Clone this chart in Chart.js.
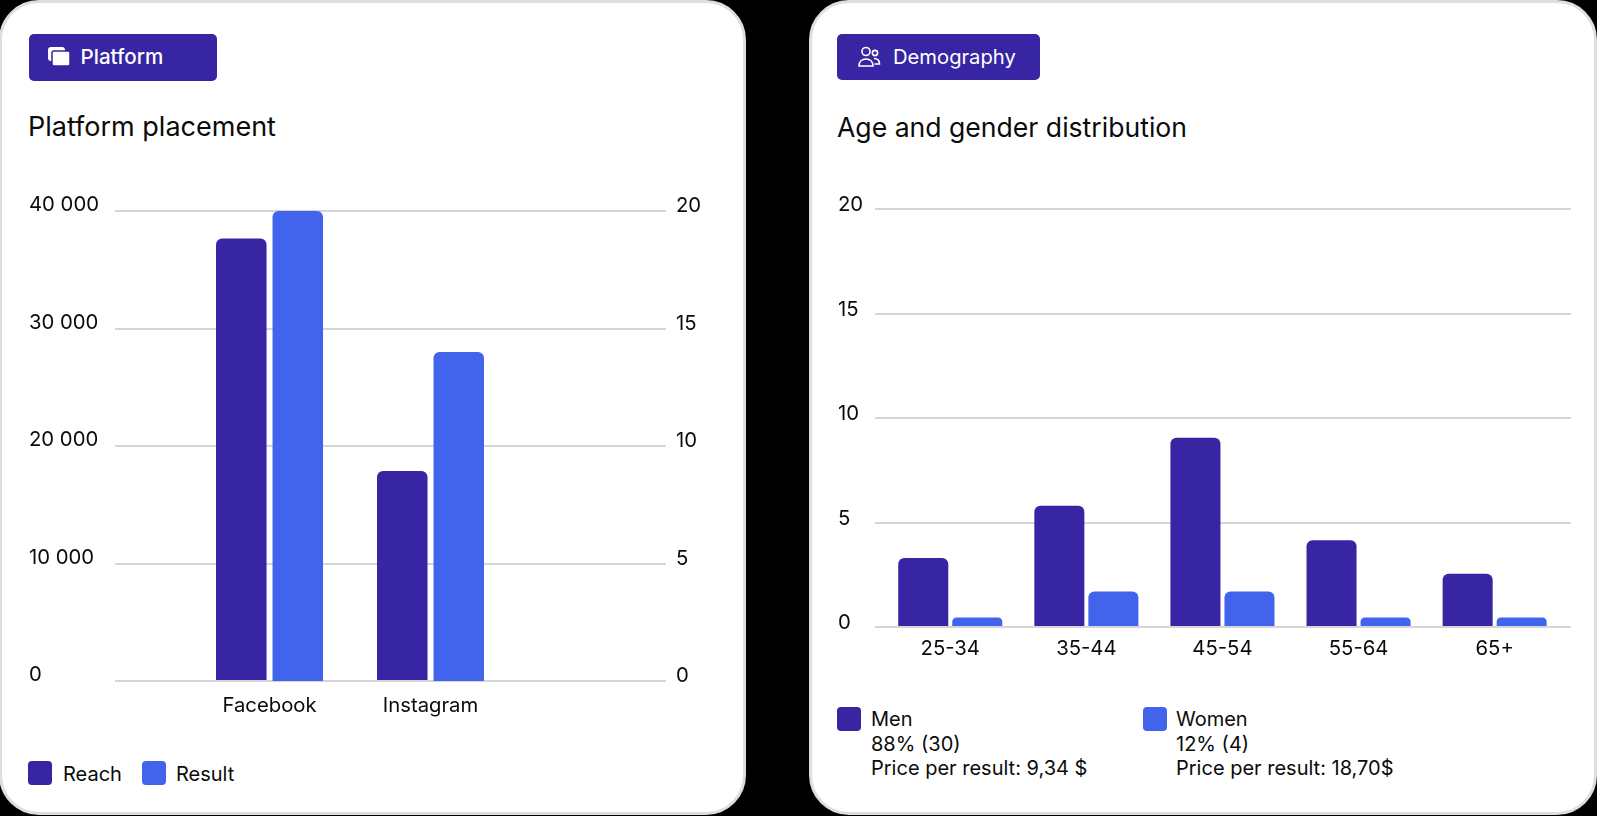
<!DOCTYPE html>
<html>
<head>
<meta charset="utf-8">
<title>Platform and demography</title>
<script src="https://cdn.jsdelivr.net/npm/chart.js@4/dist/chart.umd.min.js"></script>
<style>
    html, body { margin: 0; padding: 0; width: 1597px; height: 816px; background: #000; overflow: hidden; font-family: Inter, sans-serif; color: #0b0b0b; }
    .card { position: absolute; top: 0; height: 815px; box-sizing: border-box; background: #fff; border: 3px solid #dedede; border-radius: 40px; }
    #cardLeft { left: -1px; width: 747px; }
    #cardRight { left: 809px; width: 788px; }
    .badge { position: absolute; top: 34px; height: 47px; background: #3725a3; border-radius: 5px; color: #fff; line-height: 45px; box-sizing: border-box; }
    .badge svg { position: absolute; top: 11px; }
    .badge span { position: absolute; top: 0; white-space: nowrap; }
    .title { position: absolute; top: 109px; line-height: 36px; white-space: nowrap; }
    canvas { position: absolute; }
    .swatch { position: absolute; width: 24px; height: 24px; border-radius: 4px; }
    .legendText { position: absolute; font-size: 20px; line-height: 24.5px; white-space: nowrap; }
</style>
</head>
<body>
<div class="card" id="cardLeft"></div>
<div class="card" id="cardRight"></div>

<div class="badge" style="left:28.500px;width:188.500px">
    <svg style="left:18px" width="24" height="24" viewBox="0 0 24 24" fill="#fff"><rect x="1" y="2" width="17" height="14" rx="3"/><rect x="5" y="6" width="18" height="15" rx="2" stroke="#3725a3" stroke-width="1.5"/></svg>
    <span style="left:52px;font-size:20.600px;font-weight:500">Platform</span>
</div>
<div class="title" style="left:28px;font-size:27px">Platform placement</div>

<div class="badge" style="left:837px;width:203px;height:46px">
    <svg style="left:20px" width="24" height="24" viewBox="0 0 24 24" fill="none" stroke="#fff" stroke-width="1.6"><circle cx="9" cy="6.500" r="4"/><circle cx="18" cy="8" r="2.600"/><path d="M2 21c0-4.500 3-7 7-7s7 2.500 7 7z"/><path d="M17 13.500c3.500 0 5.500 2 5.500 5.500h-5"/></svg>
    <span style="left:56px;font-size:20.200px">Demography</span>
</div>
<div class="title" style="left:837px;font-size:26.600px">Age and gender distribution</div>

<canvas id="platformChart" style="left:29px;top:180px" width="700" height="550"></canvas>
<canvas id="demographyChart" style="left:838px;top:180px" width="733" height="490"></canvas>

<div class="swatch" style="left:28px;top:761px;background:#3725a3"></div>
<div class="legendText" style="left:63px;top:762px">Reach</div>
<div class="swatch" style="left:142px;top:761px;background:#4263eb"></div>
<div class="legendText" style="left:176px;top:762px">Result</div>

<div class="swatch" style="left:837px;top:707px;background:#3725a3"></div>
<div class="legendText" style="left:871px;top:707px">Men<br>88% (30)<br>Price per result: 9,34 $</div>
<div class="swatch" style="left:1143px;top:707px;background:#4263eb"></div>
<div class="legendText" style="left:1176px;top:707px">Women<br>12% (4)<br>Price per result: 18,70$</div>

<script>
const DARK = '#3725a3';
const BLUE = '#4263eb';
const GRID = '#d6d6da';
const TEXT = '#0b0b0b';

const platformLabels = ['Facebook', 'Instagram'];
const reachValues = [37650, 17870];
const resultValues = [20, 14];
const reachTicks = [0, 10000, 20000, 30000, 40000];
const resultTicks = [0, 5, 10, 15, 20];

const ageLabels = ['25-34', '35-44', '45-54', '55-64', '65+'];
const menValues = [3.3, 5.8, 9.05, 4.15, 2.55];
const womenValues = [0.45, 1.7, 1.7, 0.45, 0.45];
const ageTicks = [0, 5, 10, 15, 20];

Chart.defaults.animation = false;
Chart.defaults.font.family = 'Inter, sans-serif';
Chart.defaults.font.size = 20.3;
Chart.defaults.color = TEXT;
Chart.defaults.responsive = false;

function toPoints(values) {
    return values.map((y, i) => ({ x: i, y }));
}

function setTicks(list) {
    return scale => { scale.ticks = list.map(value => ({ value })); };
}

function barSet(label, values, color, axis) {
    return {
        label,
        data: toPoints(values),
        backgroundColor: color,
        borderRadius: { topLeft: 6, topRight: 6 },
        borderSkipped: 'bottom',
        yAxisID: axis
    };
}

// x is a linear scale so the groups can sit off-centre like the original
function categoryAxis(labels, min, max, height, padding) {
    return {
        type: 'linear',
        offset: false,
        min,
        max,
        afterBuildTicks: setTicks(labels.map((_, i) => i)),
        afterFit: scale => { scale.height = height; },
        grid: { display: false },
        border: { display: false },
        ticks: { padding, autoSkip: false, maxRotation: 0, callback: v => labels[v] }
    };
}

new Chart(document.getElementById('platformChart'), {
    type: 'bar',
    data: {
        datasets: [
            barSet('Reach', reachValues, DARK, 'y'),
            barSet('Result', resultValues, BLUE, 'y1')
        ]
    },
    options: {
        layout: { padding: { top: 31, left: 0, right: 0, bottom: 0 } },
        barPercentage: 0.894,
        categoryPercentage: 0.702,
        plugins: { legend: { display: false }, tooltip: { enabled: false } },
        scales: {
            x: categoryAxis(platformLabels, -0.96, 2.463, 49, 5),
            y: {
                position: 'left',
                min: 0,
                max: 40000,
                afterBuildTicks: setTicks(reachTicks),
                afterFit: scale => { scale.width = 86; },
                grid: { color: GRID, lineWidth: 2, drawTicks: false },
                border: { display: false },
                ticks: {
                    crossAlign: 'far',
                    labelOffset: -6,
                    padding: 10,
                    callback: v => String(v).replace(/\B(?=(\d{3})+$)/g, ' ')
                }
            },
            y1: {
                position: 'right',
                min: 0,
                max: 20,
                afterBuildTicks: setTicks(resultTicks),
                afterFit: scale => { scale.width = 63; },
                grid: { display: false, drawTicks: false },
                border: { display: false },
                ticks: { crossAlign: 'near', labelOffset: -5, padding: 10 }
            }
        }
    }
});

new Chart(document.getElementById('demographyChart'), {
    type: 'bar',
    data: {
        datasets: [
            barSet('Men', menValues, DARK, 'y'),
            barSet('Women', womenValues, BLUE, 'y')
        ]
    },
    options: {
        layout: { padding: { top: 29, left: 0, right: 0, bottom: 0 } },
        barPercentage: 0.926,
        categoryPercentage: 0.794,
        plugins: { legend: { display: false }, tooltip: { enabled: false } },
        scales: {
            x: categoryAxis(ageLabels, -0.553, 4.561, 43, 2),
            y: {
                min: 0,
                max: 20,
                afterBuildTicks: setTicks(ageTicks),
                afterFit: scale => { scale.width = 37; },
                grid: { color: GRID, lineWidth: 2, drawTicks: false },
                border: { display: false },
                ticks: { crossAlign: 'far', labelOffset: -4, padding: 10 }
            }
        }
    }
});
</script>
</body>
</html>
